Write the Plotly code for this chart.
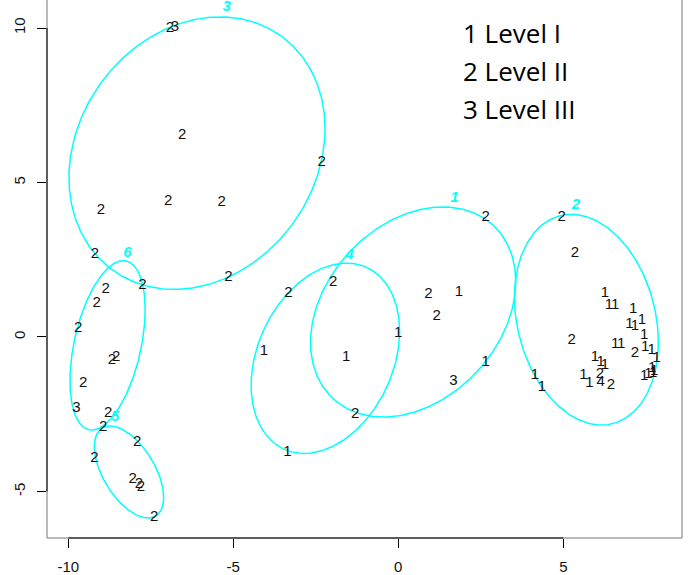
import numpy as np
import plotly.graph_objects as go

# ---- point data (label, x, y) ----
pt_labels = ["2", "3", "2", "2", "2", "2", "2", "2", "2", "2",
             "2", "2", "2", "2", "2", "2", "3", "2", "2",
             "2", "2", "2", "2", "2", "2",
             "2", "2", "1", "1", "2", "1",
             "1", "2", "1", "2", "2", "1", "3",
             "2", "2", "2", "1", "1", "1", "1", "1", "1", "1", "1",
             "1", "1", "2", "1", "1", "1", "1", "1", "1", "1", "1",
             "1", "1", "1", "2", "4", "1", "1", "2", "1", "1"]
pt_x = [-6.92, -6.77, -6.55, -2.32, -6.97, -5.35, -9.01, -9.19, -5.15, -7.75,
        -8.87, -9.14, -9.70, -8.68, -8.55, -9.55, -9.75, -8.79, -8.94,
        -7.91, -9.21, -8.05, -7.86, -7.80, -7.40,
        -3.33, -1.97, -4.07, -1.58, -1.31, -3.36,
        0.00, 0.91, 1.84, 1.16, 2.65, 2.65, 1.67,
        4.95, 5.35, 5.25, 6.26, 6.38, 6.57, 7.12, 7.00, 7.17, 7.38, 7.45,
        6.57, 6.75, 7.17, 7.48, 7.68, 7.83, 7.45, 7.58, 7.69, 7.75, 7.72,
        5.96, 6.13, 6.26, 6.11, 6.13, 5.61, 5.79, 6.44, 4.14, 4.35]
pt_y = [9.99, 10.04, 6.53, 5.64, 4.40, 4.37, 4.10, 2.68, 1.94, 1.67,
        1.53, 1.10, 0.27, -0.76, -0.67, -1.51, -2.32, -2.48, -2.92,
        -3.40, -3.94, -4.62, -4.77, -4.85, -5.83,
        1.41, 1.78, -0.45, -0.65, -2.51, -3.73,
        0.11, 1.38, 1.46, 0.67, 3.87, -0.81, -1.43,
        3.87, 2.70, -0.11, 1.41, 1.03, 1.03, 0.89, 0.41, 0.35, 0.54, 0.05,
        -0.24, -0.24, -0.52, -0.32, -0.43, -0.70, -1.27, -1.21, -1.02, -1.11, -1.18,
        -0.65, -0.82, -0.92, -1.19, -1.46, -1.24, -1.49, -1.57, -1.24, -1.62]

# ---- clusters: label position and ellipse (center, half-width, half-height, correlation) ----
cl_names = ["1", "2", "3", "4", "5", "6"]
cl_label_x = [1.70, 5.38, -5.20, -1.48, -8.58, -8.21]
cl_label_y = [4.48, 4.27, 10.67, 2.66, -2.59, 2.70]
ell_cx = [0.45, 5.70, -6.10, -2.21, -8.16, -8.81]
ell_cy = [0.81, 0.56, 5.95, -0.69, -4.37, -0.27]
ell_w = [3.11, 2.18, 3.88, 2.25, 1.05, 1.14]
ell_h = [3.40, 3.41, 4.41, 3.08, 1.49, 2.74]
ell_rho = [0.29, -0.21, 0.18, 0.285, -0.55, 0.42]

legend_lines = ["1 Level I", "2 Level II", "3 Level III"]

x_ticks = [-10, -5, 0, 5]
y_ticks = [-5, 0, 5, 10]
x_range = [-10.645, 8.597]
y_range = [-6.506, 10.907]

CYAN = "#00FFFF"
FONT = "Liberation Sans, Arial"
fig = go.Figure()

t = np.linspace(0, 2 * np.pi, 361)
for cx, cy, w, h, r in zip(ell_cx, ell_cy, ell_w, ell_h, ell_rho):
    ex = cx + w * np.cos(t)
    ey = cy + h * (r * np.cos(t) + np.sqrt(1 - r * r) * np.sin(t))
    fig.add_trace(go.Scatter(x=ex, y=ey, mode="lines",
                             line=dict(color=CYAN, width=1.5),
                             hoverinfo="skip", showlegend=False))

fig.add_trace(go.Scatter(x=pt_x, y=pt_y, mode="text", text=pt_labels,
                         textposition="middle center", cliponaxis=False,
                         textfont=dict(family=FONT, size=15, color="#111111"),
                         showlegend=False))

fig.add_trace(go.Scatter(x=cl_label_x, y=cl_label_y, mode="text", text=cl_names,
                         textposition="middle center", cliponaxis=False,
                         textfont=dict(family=FONT, size=15, color=CYAN,
                                       weight="bold", style="italic"),
                         showlegend=False))

# legend text
leg_y = [0.939, 0.868, 0.797]
for txt, yy in zip(legend_lines, leg_y):
    fig.add_annotation(x=0.652, y=yy, xref="paper", yref="paper", text=txt,
                       showarrow=False, xanchor="left", yanchor="middle",
                       font=dict(family="Open Sans", size=26, color="#000000"))

# box (gray) and axis segments (black)
box = dict(color="#777777", width=1)
fig.add_shape(type="line", xref="paper", yref="paper", x0=0, x1=0, y0=0, y1=1, line=box)
fig.add_shape(type="line", xref="paper", yref="paper", x0=0, x1=1, y0=0, y1=0, line=box)
fig.add_shape(type="line", xref="paper", yref="paper", x0=1, x1=1, y0=0, y1=1, line=box)
fig.add_shape(type="line", xref="x", yref="paper", x0=x_ticks[0], x1=x_ticks[-1], y0=0, y1=0,
              line=dict(color="black", width=1))
fig.add_shape(type="line", xref="paper", yref="y", x0=0, x1=0, y0=y_ticks[0], y1=y_ticks[-1],
              line=dict(color="black", width=1))

fig.update_layout(
    width=691, height=575,
    margin=dict(l=47, r=9, t=0, b=37, pad=0, autoexpand=False),
    paper_bgcolor="white", plot_bgcolor="white",
    showlegend=False,
    font=dict(family=FONT, size=15, color="black"),
    xaxis=dict(range=x_range, tickvals=x_ticks, ticktext=[str(v) for v in x_ticks],
               showgrid=False, zeroline=False, showline=False,
               ticks="outside", ticklen=9, tickcolor="black", tickwidth=1,
               ticklabelstandoff=6,
               tickfont=dict(family=FONT, size=15, color="#111111")),
    yaxis=dict(range=y_range, tickvals=y_ticks, ticktext=[str(v) for v in y_ticks],
               showgrid=False, zeroline=False, showline=False,
               ticks="outside", ticklen=9, tickcolor="black", tickwidth=1,
               tickangle=-90, ticklabelstandoff=6,
               tickfont=dict(family=FONT, size=15, color="#111111")),
)

fig.write_html("out.html", config={"displayModeBar": False},
               post_script="document.body.style.margin='0';document.body.style.padding='0';")
